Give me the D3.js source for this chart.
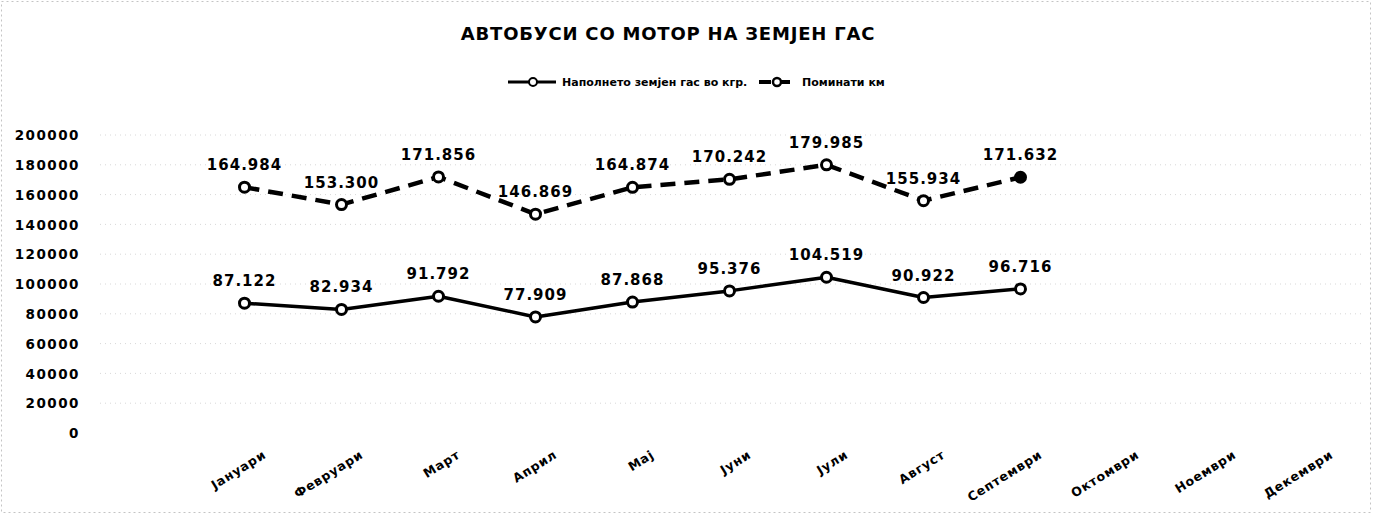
<!DOCTYPE html>
<html>
<head>
<meta charset="utf-8">
<script src="https://cdn.jsdelivr.net/npm/d3@7"></script>
<style>
  html, body { margin: 0; padding: 0; background: #fff; }
  svg { display: block; }
  text { font-family: "DejaVu Sans", Verdana, sans-serif; font-weight: bold; fill: #000; }
</style>
</head>
<body>
<svg id="chart" width="1378" height="518"></svg>
<script>
const title = "АВТОБУСИ СО МОТОР НА ЗЕМЈЕН ГАС";
const categories = ["Јануари","Февруари","Март","Април","Мај","Јуни","Јули","Август","Септември","Октомври","Ноември","Декември"];
const seriesNames = ["Наполнето земјен гас во кгр.", "Поминати км"];
const gasKg = [87122, 82934, 91792, 77909, 87868, 95376, 104519, 90922, 96716];
const kmDriven = [164984, 153300, 171856, 146869, 164874, 170242, 179985, 155934, 171632];
const yTicks = [0, 20000, 40000, 60000, 80000, 100000, 120000, 140000, 160000, 180000, 200000];

const svg = d3.select("#chart");
const W = 1378, H = 518;

// faint frame
svg.append("rect").attr("x", 1.5).attr("y", 1.5).attr("width", W - 9).attr("height", H - 7)
  .attr("fill", "none").attr("stroke", "#c4c4c4").attr("stroke-width", 1).attr("stroke-dasharray", "2,3");

const x = d3.scalePoint().domain(categories).range([196, 1360]).padding(0.5);
const y = d3.scaleLinear().domain([0, 200000]).range([433, 135]);

// gridlines
svg.append("g").selectAll("line").data(yTicks.filter(d => d > 0)).join("line")
  .attr("x1", 100).attr("x2", 1362)
  .attr("y1", d => y(d)).attr("y2", d => y(d))
  .attr("stroke", "#d8d8d8").attr("stroke-width", 1).attr("stroke-dasharray", "1,4");

// y axis
const yAxis = svg.append("g").attr("transform", "translate(80,0)")
  .call(d3.axisLeft(y).tickValues(yTicks).tickSize(0).tickPadding(0).tickFormat(d3.format("d")));
yAxis.select(".domain").remove();
yAxis.selectAll("text").attr("font-size", 13.5).attr("letter-spacing", "1.5px")
  .attr("font-family", "DejaVu Sans").attr("font-weight", "bold").attr("dy", "0.35em");

// x axis
const xAxis = svg.append("g").attr("transform", "translate(0,433)")
  .call(d3.axisBottom(x).tickSize(0));
xAxis.select(".domain").remove();
xAxis.selectAll("text")
  .attr("font-size", 12.5).attr("letter-spacing", "0.8px")
  .attr("font-family", "DejaVu Sans").attr("font-weight", "bold")
  .attr("text-anchor", "end").attr("dy", 0).attr("y", 0)
  .attr("transform", "translate(22,24) rotate(-32)");

// title
svg.append("text").attr("x", 668).attr("y", 40).attr("text-anchor", "middle")
  .attr("font-size", 18).attr("letter-spacing", "0.8px").text(title);

const fmt = d3.formatLocale({decimal: ",", thousands: ".", grouping: [3], currency: ["", ""]}).format(",d");

function drawSeries(data, dash, lastFilled) {
  const pts = data.map((v, i) => [x(categories[i]), y(v)]);
  svg.append("path").attr("d", d3.line()(pts))
    .attr("fill", "none").attr("stroke", "#000").attr("stroke-width", dash ? 4.5 : 3.5)
    .attr("stroke-dasharray", dash ? "15,9" : null).attr("stroke-linejoin", "round");
  svg.append("g").selectAll("circle").data(data).join("circle")
    .attr("cx", (d, i) => x(categories[i])).attr("cy", d => y(d)).attr("r", 5)
    .attr("fill", (d, i) => (lastFilled && i === data.length - 1) ? "#000" : "#fff")
    .attr("stroke", "#000").attr("stroke-width", 3);
  svg.append("g").selectAll("text").data(data).join("text")
    .attr("x", (d, i) => x(categories[i])).attr("y", d => y(d) - 17)
    .attr("text-anchor", "middle").attr("font-size", 15).attr("letter-spacing", "1px")
    .text(d => fmt(d));
}
drawSeries(gasKg, false, false);
drawSeries(kmDriven, true, true);

// legend
const lg = svg.append("g");
lg.append("line").attr("x1", 508).attr("x2", 556).attr("y1", 82).attr("y2", 82)
  .attr("stroke", "#000").attr("stroke-width", 3);
lg.append("circle").attr("cx", 533).attr("cy", 82).attr("r", 4).attr("fill", "#fff")
  .attr("stroke", "#000").attr("stroke-width", 2);
lg.append("text").attr("x", 562).attr("y", 86).attr("font-size", 11).text(seriesNames[0]);
lg.append("line").attr("x1", 759).attr("x2", 797).attr("y1", 82).attr("y2", 82)
  .attr("stroke", "#000").attr("stroke-width", 4).attr("stroke-dasharray", "12,7");
lg.append("circle").attr("cx", 777).attr("cy", 82).attr("r", 4).attr("fill", "#fff")
  .attr("stroke", "#000").attr("stroke-width", 2.5);
lg.append("text").attr("x", 802).attr("y", 86).attr("font-size", 11).text(seriesNames[1]);
</script>
</body>
</html>
